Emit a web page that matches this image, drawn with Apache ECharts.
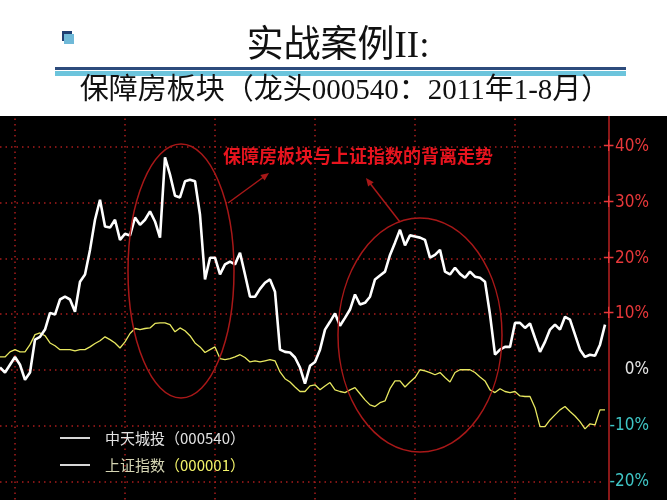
<!DOCTYPE html>
<html><head><meta charset="utf-8">
<script src="https://cdn.jsdelivr.net/npm/echarts@6/dist/echarts.min.js"></script>
<style>html,body{margin:0;padding:0;background:#000;}#c{width:667px;height:500px;}</style>
</head><body><div id="c"></div>
<script>
// 中天城投（000540）累计涨跌幅 %
const zttValues = [0.4,-0.5,0.9,2.3,0.9,-1.8,-0.5,5.4,5.9,7.2,
10.2,9.9,12.6,13.1,12.6,10.4,15.8,17.1,21.5,26.9,
30.5,25.7,25.5,26.9,23.3,24.4,24.1,27.3,26.0,26.9,
28.4,26.6,23.7,38.1,35.0,31.2,30.9,33.8,34.1,33.8,
27.8,16.2,20.1,20.1,17.1,18.9,19.4,18.9,21.0,17.1,
13.1,13.1,14.5,15.6,16.2,14.0,3.6,3.2,3.1,2.2,
0.4,-2.5,0.7,1.4,3.6,7.2,8.6,10.1,7.9,9.3,
10.8,13.5,11.7,12.0,13.1,16.2,16.9,17.6,20.6,22.8,
25.1,22.3,24.1,23.9,23.7,23.3,20.1,20.6,21.5,17.6,
17.1,18.3,17.2,16.5,17.6,16.7,16.5,15.8,9.9,2.7,
3.6,4.1,4.1,8.4,8.4,7.5,8.3,5.7,3.2,5.0,
7.2,8.1,7.2,9.5,9.0,6.3,3.6,2.3,2.7,2.5,
4.5,8.1];
// 上证指数（000001）累计涨跌幅 %
const szValues = [2.3,2.3,3.2,3.6,3.2,3.2,4.5,6.3,6.6,6.1,
4.8,4.3,3.6,3.6,3.6,3.4,3.6,3.6,4.1,4.7,
5.2,5.9,5.4,4.8,3.9,5.0,6.5,7.4,7.2,7.4,
7.5,8.3,8.4,8.4,8.1,6.8,7.5,7.0,6.1,4.8,
4.1,3.1,3.6,4.1,2.0,1.8,2.0,2.3,2.7,2.2,
1.4,1.6,1.4,1.6,1.8,1.6,-0.4,-1.6,-2.2,-3.1,
-3.9,-3.9,-2.9,-2.7,-3.6,-2.9,-2.3,-3.6,-3.9,-4.1,
-3.6,-3.2,-4.3,-5.4,-6.3,-6.6,-5.9,-5.6,-3.4,-2.0,
-2.0,-3.1,-2.2,-1.4,0.0,-0.2,-0.5,-0.9,-0.5,-1.4,
-2.2,-0.5,0.0,0.0,0.0,-0.5,-1.3,-2.0,-3.6,-4.1,
-3.4,-3.9,-4.1,-3.9,-4.7,-4.8,-4.8,-6.8,-10.2,-10.2,
-9.0,-8.1,-7.2,-6.6,-7.5,-8.3,-9.3,-10.6,-9.7,-9.9,
-7.2,-7.2];
// trading-day categories
const categories = zttValues.map((_, i) => 'T' + (i + 1));
// category indices where vertical dotted grid lines are drawn
const vGridIdx = [3, 25, 43, 63, 83, 103];
// y tick labels that are shown
const yTickLabels = [-20, -10, 0, 10, 20, 30, 40];
const seriesNames = ['中天城投（000540）', '上证指数（000001）'];

const chart = echarts.init(document.getElementById('c'));
const gridLine = {color: '#a81c1c', type: [1.5, 4], width: 1.5};
const red = '#a81818';
const option = {
  backgroundColor: '#000',
  animation: false,
  grid: {left: 0, top: 91, width: 605, height: 446, containLabel: false, outerBoundsMode: 'none'},
  xAxis: {
    type: 'category', data: categories, boundaryGap: false,
    axisLine: {show: false}, axisTick: {show: false}, axisLabel: {show: false},
    splitLine: {show: true, interval: (i) => vGridIdx.includes(i), lineStyle: gridLine}
  },
  yAxis: {
    type: 'value', position: 'right', offset: 4, min: -30, max: 50, interval: 10,
    axisLine: {show: true, lineStyle: {color: '#b82020', width: 1.5}},
    axisTick: {show: false},
    splitLine: {show: true, lineStyle: gridLine},
    axisLabel: {
      margin: 40, align: 'right', fontSize: 17,
      fontFamily: "'Liberation Sans Narrow', 'DejaVu Sans Condensed', sans-serif",
      formatter: (v) => yTickLabels.includes(v) ? (v > 0 ? '+' + v + '%' : v + '%') : '',
      color: (v) => { v = Number(v); return v > 0 ? '#e8383a' : (v < 0 ? '#3fc6c6' : '#e6e6e6'); }
    }
  },
  legend: {
    left: 55, top: 424, orient: 'vertical', icon: 'rect', itemWidth: 30, itemHeight: 2,
    itemGap: 9, selectedMode: false,
    itemStyle: {color: '#d6d6d6', borderWidth: 0},
    data: seriesNames,
    formatter: (name) => {
      const k = name.indexOf('（');
      return name === seriesNames[0] ? '{a|' + name + '}' : '{b|' + name.slice(0, k) + '}{c|' + name.slice(k) + '}';
    },
    textStyle: {
      padding: [0, 0, 0, 10], lineHeight: 18,
      rich: {
        a: {color: '#e2e2e2', fontSize: 15, fontFamily: 'Noto Sans CJK SC', lineHeight: 18},
        b: {color: '#d6d6b4', fontSize: 15, fontFamily: 'Noto Sans CJK SC', lineHeight: 18},
        c: {color: '#f4f46a', fontSize: 15, fontFamily: 'Noto Sans CJK SC', lineHeight: 18}
      }
    }
  },
  series: [
    {name: seriesNames[1], type: 'line', data: szValues, showSymbol: false, z: 3,
     lineStyle: {color: '#e8e860', width: 1.3}, itemStyle: {color: '#e8e860'}},
    {name: seriesNames[0], type: 'line', data: zttValues, showSymbol: false, z: 4,
     lineStyle: {color: '#ffffff', width: 2.6}, itemStyle: {color: '#ffffff'}}
  ],
  graphic: [
    {type: 'rect', z: 100, shape: {x: 0, y: 0, width: 667, height: 116}, style: {fill: '#ffffff'}},
    {type: 'rect', z: 101, shape: {x: 62, y: 31, width: 10, height: 10}, style: {fill: '#1f3f73'}},
    {type: 'rect', z: 102, shape: {x: 64, y: 34, width: 10, height: 10}, style: {fill: '#6fb9d8'}},
    {type: 'rect', z: 101, shape: {x: 55, y: 67, width: 571, height: 3}, style: {fill: '#2d4b7c'}},
    {type: 'rect', z: 101, shape: {x: 55, y: 71, width: 571, height: 5}, style: {fill: '#6cc4dc'}},
    {type: 'text', z: 101, x: 338, y: 47, style: {text: '实战案例II:', fill: '#111',
      fontSize: 37, fontFamily: "'Liberation Serif', 'Noto Sans CJK SC', serif", align: 'center', verticalAlign: 'middle'}},
    {type: 'text', z: 101, x: 345, y: 91, style: {text: '保障房板块（龙头000540：2011年1-8月）', fill: '#111',
      fontSize: 29, fontFamily: "'Liberation Serif', 'Noto Sans CJK SC', serif", align: 'center', verticalAlign: 'middle'}},
    {type: 'text', z: 20, x: 358, y: 156, style: {text: '保障房板块与上证指数的背离走势', fill: '#e8141e',
      fontSize: 18, fontWeight: 'bold', fontFamily: 'Noto Sans CJK SC', align: 'center', verticalAlign: 'middle'}},
    {type: 'ellipse', z: 20, shape: {cx: 181, cy: 271, rx: 53, ry: 127}, style: {fill: 'none', stroke: red, lineWidth: 1.5}},
    {type: 'ellipse', z: 20, shape: {cx: 420, cy: 335, rx: 82, ry: 117}, style: {fill: 'none', stroke: red, lineWidth: 1.5}},
    {type: 'line', z: 20, shape: {x1: 228, y1: 203, x2: 265, y2: 176}, style: {stroke: red, lineWidth: 1.5}},
    {type: 'polygon', z: 20, shape: {points: [[269, 173], [264.6, 180.5], [260.4, 174.9]]}, style: {fill: red}},
    {type: 'line', z: 20, shape: {x1: 400, y1: 222, x2: 369, y2: 182}, style: {stroke: red, lineWidth: 1.5}},
    {type: 'polygon', z: 20, shape: {points: [[366, 178], [373.7, 182.2], [368.1, 186.4]]}, style: {fill: red}}
  ]
};
chart.setOption(option);
</script>
</body></html>
